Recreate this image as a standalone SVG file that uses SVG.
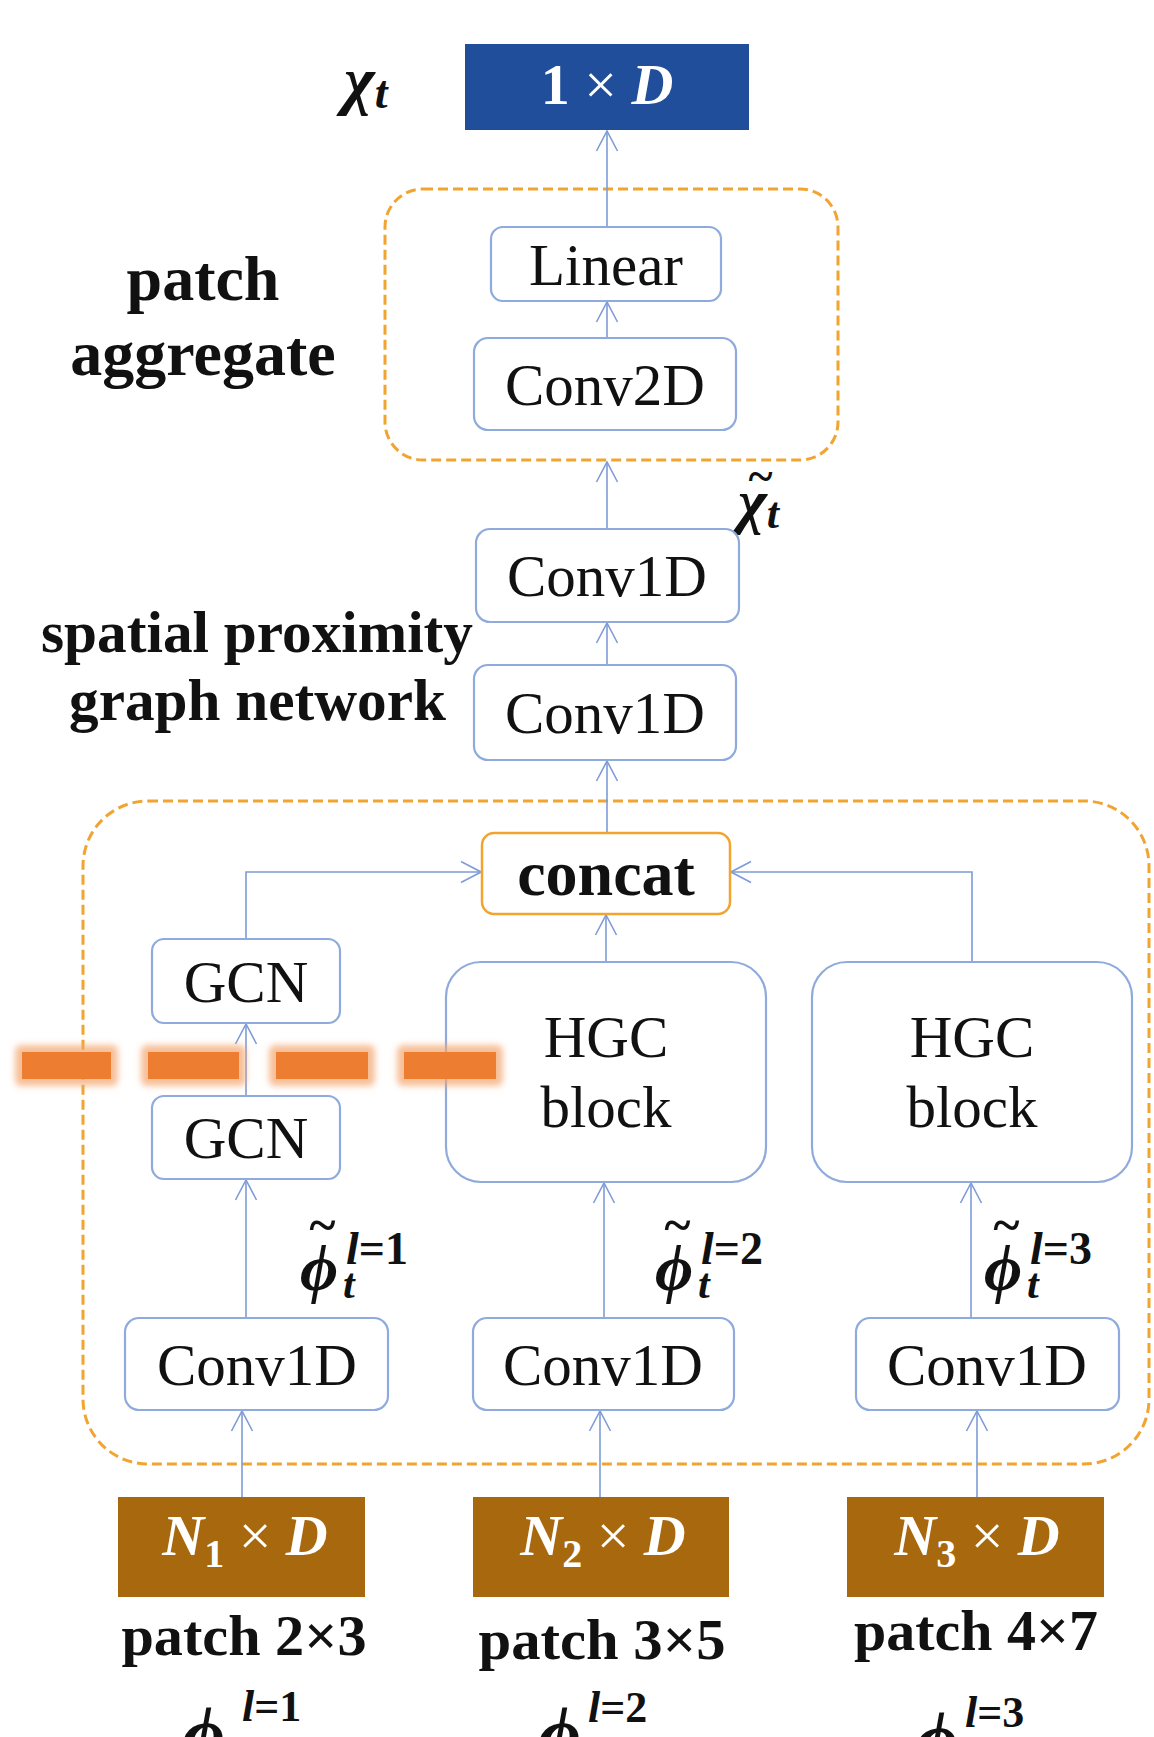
<svg xmlns="http://www.w3.org/2000/svg" width="1154" height="1737" viewBox="0 0 1154 1737">
<defs>
<style>
.box{fill:#fff;stroke:#8FAADC;stroke-width:2.2}
.grp{fill:none;stroke:#F2A431;stroke-width:3;stroke-dasharray:10 5}
.lbl{font-family:'Liberation Serif','Times New Roman',serif;font-size:59px;fill:#111;text-anchor:middle}
.bold{font-family:'Liberation Serif','Times New Roman',serif;font-weight:bold;fill:#111}
.conn{fill:none;stroke:#7E9CD6;stroke-width:1.6}
.math{font-family:'Liberation Serif','DejaVu Serif',serif;font-weight:bold;font-style:italic;fill:#111}
.up{font-style:normal}
.dash{fill:#ED7D31}
.glow{fill:#F4A46C;opacity:0.7}
</style>
<marker id="arr" viewBox="0 0 22 24" refX="21" refY="12" markerWidth="22" markerHeight="24" markerUnits="userSpaceOnUse" orient="auto"><path d="M1,1.5 L21,12 L1,22.5" fill="none" stroke="#7E9CD6" stroke-width="1.6"/></marker>
<filter id="blur" x="-20%" y="-60%" width="140%" height="220%"><feGaussianBlur stdDeviation="3"/></filter>
</defs>
<rect width="1154" height="1737" fill="#fff"/>

<g id="patch-aggregate-group"><rect class="grp" x="385" y="189" width="453" height="271" rx="38"/></g>
<g id="spgn-group"><rect class="grp" x="83" y="801" width="1066" height="663" rx="65"/></g>

<g id="connectors">
<line class="conn" x1="607" y1="227" x2="607" y2="131" marker-end="url(#arr)"/>
<line class="conn" x1="607" y1="338" x2="607" y2="302" marker-end="url(#arr)"/>
<line class="conn" x1="607" y1="529" x2="607" y2="462" marker-end="url(#arr)"/>
<line class="conn" x1="607" y1="665" x2="607" y2="623" marker-end="url(#arr)"/>
<line class="conn" x1="607" y1="833" x2="607" y2="761" marker-end="url(#arr)"/>
<polyline class="conn" points="246,939 246,872 481,872" marker-end="url(#arr)"/>
<polyline class="conn" points="972,962 972,872 731,872" marker-end="url(#arr)"/>
<line class="conn" x1="606" y1="962" x2="606" y2="915" marker-end="url(#arr)"/>
<line class="conn" x1="246" y1="1096" x2="246" y2="1024" marker-end="url(#arr)"/>
<line class="conn" x1="246" y1="1318" x2="246" y2="1180" marker-end="url(#arr)"/>
<line class="conn" x1="604" y1="1318" x2="604" y2="1183" marker-end="url(#arr)"/>
<line class="conn" x1="971" y1="1318" x2="971" y2="1183" marker-end="url(#arr)"/>
<line class="conn" x1="242" y1="1497" x2="242" y2="1411" marker-end="url(#arr)"/>
<line class="conn" x1="600" y1="1497" x2="600" y2="1411" marker-end="url(#arr)"/>
<line class="conn" x1="977" y1="1497" x2="977" y2="1411" marker-end="url(#arr)"/>
</g>

<g id="output-1xD">
<rect x="465" y="44" width="284" height="86" fill="#204E9A"/>
<text x="607" y="104" text-anchor="middle" font-family="'Liberation Serif','Times New Roman',serif" font-weight="bold" font-size="58" fill="#fff">1 <tspan font-weight="normal">×</tspan> <tspan font-style="italic">D</tspan></text>
</g>
<g id="label-chi"><text class="math" x="344" y="102" font-size="66">χ<tspan font-size="46" dy="6">t</tspan></text></g>

<g id="linear"><rect class="box" x="491" y="227" width="230" height="74" rx="12"/><text class="lbl" x="606" y="285">Linear</text></g>
<g id="conv2d"><rect class="box" x="474" y="338" width="262" height="92" rx="14"/><text class="lbl" x="605" y="405">Conv2D</text></g>
<g id="label-patch-aggregate">
<text class="bold" font-size="64" text-anchor="middle" x="203" y="300">patch</text>
<text class="bold" font-size="64" text-anchor="middle" x="203" y="375">aggregate</text>
</g>
<g id="label-chi-tilde">
<text class="math" x="760" y="492" font-size="46" text-anchor="middle" font-style="normal">~</text>
<text class="math" x="738" y="522" font-size="62">χ<tspan font-size="44" dy="6">t</tspan></text>
</g>

<g id="conv1d-upper"><rect class="box" x="476" y="529" width="263" height="93" rx="14"/><text class="lbl" x="607" y="596">Conv1D</text></g>
<g id="conv1d-lower"><rect class="box" x="474" y="665" width="262" height="95" rx="14"/><text class="lbl" x="605" y="733">Conv1D</text></g>
<g id="label-spgn">
<text class="bold" font-size="60" x="41" y="652" textLength="432" lengthAdjust="spacingAndGlyphs">spatial proximity</text>
<text class="bold" font-size="60" x="69" y="720" textLength="377" lengthAdjust="spacingAndGlyphs">graph network</text>
</g>

<g id="concat"><rect x="482" y="833" width="248" height="81" rx="12" fill="#fff" stroke="#F2A431" stroke-width="2.5"/><text class="bold" font-size="64" text-anchor="middle" x="606" y="895">concat</text></g>

<g id="gcn-top"><rect class="box" x="152" y="939" width="188" height="84" rx="12"/><text class="lbl" x="246" y="1002">GCN</text></g>
<g id="gcn-bottom"><rect class="box" x="152" y="1096" width="188" height="83" rx="12"/><text class="lbl" x="246" y="1158">GCN</text></g>
<g id="hgc-block-1"><rect class="box" x="446" y="962" width="320" height="220" rx="35"/><text class="lbl" x="606" y="1057">HGC</text><text class="lbl" x="606" y="1127">block</text></g>
<g id="hgc-block-2"><rect class="box" x="812" y="962" width="320" height="220" rx="35"/><text class="lbl" x="972" y="1057">HGC</text><text class="lbl" x="972" y="1127">block</text></g>

<g id="cut-line">
<g filter="url(#blur)">
<rect class="glow" x="15" y="1045" width="103" height="41" rx="6"/>
<rect class="glow" x="141" y="1045" width="105" height="41" rx="6"/>
<rect class="glow" x="269" y="1045" width="106" height="41" rx="6"/>
<rect class="glow" x="397" y="1045" width="106" height="41" rx="6"/>
</g>
<rect class="dash" x="22" y="1052" width="89" height="27"/>
<rect class="dash" x="148" y="1052" width="91" height="27"/>
<rect class="dash" x="276" y="1052" width="92" height="27"/>
<rect class="dash" x="404" y="1052" width="92" height="27"/>
</g>

<g id="phi-tilde-1">
<text class="math" x="322" y="1242" font-size="50" text-anchor="middle" font-style="normal">~</text>
<text class="math" x="300" y="1290" font-size="66">ϕ</text>
<text class="math" x="346" y="1264" font-size="46">l<tspan class="up">=1</tspan></text>
<text class="math" x="343" y="1298" font-size="42">t</text>
</g>
<g id="phi-tilde-2">
<text class="math" x="677" y="1242" font-size="50" text-anchor="middle" font-style="normal">~</text>
<text class="math" x="655" y="1290" font-size="66">ϕ</text>
<text class="math" x="701" y="1264" font-size="46">l<tspan class="up">=2</tspan></text>
<text class="math" x="698" y="1298" font-size="42">t</text>
</g>
<g id="phi-tilde-3">
<text class="math" x="1006" y="1242" font-size="50" text-anchor="middle" font-style="normal">~</text>
<text class="math" x="984" y="1290" font-size="66">ϕ</text>
<text class="math" x="1030" y="1264" font-size="46">l<tspan class="up">=3</tspan></text>
<text class="math" x="1027" y="1298" font-size="42">t</text>
</g>

<g id="conv1d-1"><rect class="box" x="125" y="1318" width="263" height="92" rx="14"/><text class="lbl" x="257" y="1385">Conv1D</text></g>
<g id="conv1d-2"><rect class="box" x="473" y="1318" width="261" height="92" rx="14"/><text class="lbl" x="603" y="1385">Conv1D</text></g>
<g id="conv1d-3"><rect class="box" x="856" y="1318" width="263" height="92" rx="14"/><text class="lbl" x="987" y="1385">Conv1D</text></g>

<g id="input-1">
<rect x="118" y="1497" width="247" height="100" fill="#A8690E"/>
<text class="math" x="245" y="1555" font-size="58" text-anchor="middle" style="fill:#fff">N<tspan class="up" font-size="40" dy="12">1</tspan><tspan class="up" font-weight="normal" dy="-12"> × </tspan>D</text>
<text class="bold" font-size="58" text-anchor="middle" x="244" y="1655" textLength="245" lengthAdjust="spacingAndGlyphs">patch 2×3</text>
<text class="math" x="182" y="1758" font-size="74">ϕ</text>
<text class="math" x="242" y="1721" font-size="44">l<tspan class="up">=1</tspan></text>
</g>
<g id="input-2">
<rect x="473" y="1497" width="256" height="100" fill="#A8690E"/>
<text class="math" x="603" y="1555" font-size="58" text-anchor="middle" style="fill:#fff">N<tspan class="up" font-size="40" dy="12">2</tspan><tspan class="up" font-weight="normal" dy="-12"> × </tspan>D</text>
<text class="bold" font-size="58" text-anchor="middle" x="602" y="1659" textLength="247" lengthAdjust="spacingAndGlyphs">patch 3×5</text>
<text class="math" x="538" y="1758" font-size="74">ϕ</text>
<text class="math" x="588" y="1722" font-size="44">l<tspan class="up">=2</tspan></text>
</g>
<g id="input-3">
<rect x="847" y="1497" width="257" height="100" fill="#A8690E"/>
<text class="math" x="977" y="1555" font-size="58" text-anchor="middle" style="fill:#fff">N<tspan class="up" font-size="40" dy="12">3</tspan><tspan class="up" font-weight="normal" dy="-12"> × </tspan>D</text>
<text class="bold" font-size="58" text-anchor="middle" x="976" y="1650" textLength="244" lengthAdjust="spacingAndGlyphs">patch 4×7</text>
<text class="math" x="915" y="1763" font-size="74">ϕ</text>
<text class="math" x="965" y="1727" font-size="44">l<tspan class="up">=3</tspan></text>
</g>
</svg>
